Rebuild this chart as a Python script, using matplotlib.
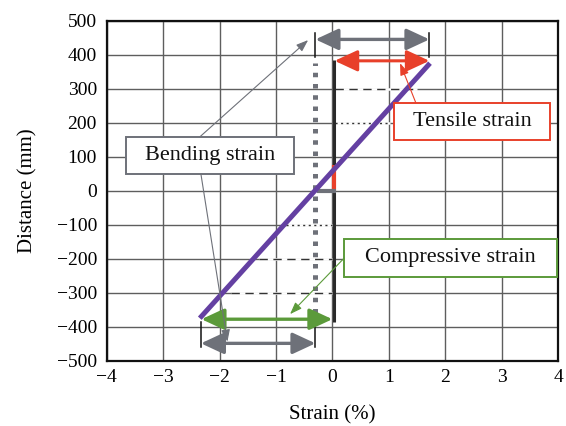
import matplotlib
matplotlib.use("Agg")
import matplotlib.pyplot as plt
from matplotlib.patches import Rectangle, FancyArrowPatch

plt.rcParams['font.family'] = ['Liberation Serif', 'DejaVu Serif']
plt.rcParams['axes.unicode_minus'] = True

# ---- data ----
x_ticks = [-4, -3, -2, -1, 0, 1, 2, 3, 4]
y_ticks = [-500, -400, -300, -200, -100, 0, 100, 200, 300, 400, 500]

# total strain distribution (purple)
total_x = [-2.35, 1.73]
total_y = [-375, 375]

# axial (dotted gray) strain
axial_x = [-0.3, -0.3]
axial_y = [-360, 375]

# zero-strain reference (black) and red offset
ref_x_upper = [0.035, 0.035]
ref_y_upper = [384, 76]
ref_x_lower = [0.035, 0.035]
ref_y_lower = [0, -385]
red_seg_x = [0.035, 0.035]
red_seg_y = [76, 0]
zero_tick_x = [-0.28, 0.07]
zero_tick_y = [0, 0]

# projection lines
dash_levels = [300, -200, -300]
dash_ranges = [(0.05, 1.5), (-1.3, 0.0), (-1.8, 0.0)]
dot_levels = [200, -100]
dot_ranges = [(0.05, 1.02), (-0.82, 0.0)]

# double arrows: (x0, x1, y)
bend_top = (-0.3, 1.72, 445)
tens_arrow = (0.04, 1.72, 382)
comp_arrow = (-2.32, 0.0, -378)
bend_bot = (-2.33, -0.3, -449)
top_ticks_x = [-0.3, 1.72]
top_ticks_y = (394, 463)
bot_ticks_x = [-2.33, -0.3]
bot_ticks_y = (-385, -459)

# callout boxes: (x0, x1, y0, y1)
bend_box = (-3.66, -0.68, 49, 159)
tens_box = (1.09, 3.86, 149, 258)
comp_box = (0.21, 3.98, -253, -142)

GRAY = '#6e7179'
RED = '#e8402a'
GREEN = '#5b9a3a'
PURPLE = '#6440a2'

fig = plt.figure(figsize=(5.66, 4.26), dpi=100)
ax = fig.add_axes([0.1885, 0.1533, 0.7975, 0.7981])
ax.set_xlim(-4, 4)
ax.set_ylim(-500, 500)
ax.set_xticks(x_ticks)
ax.set_yticks(y_ticks)
ax.tick_params(length=0, labelsize=14, pad=7)
ax.tick_params(axis='x', pad=6)
ax.grid(True, color='#5e5e5e', linewidth=1.0)
ax.set_axisbelow(True)
for s in ax.spines.values():
    s.set_linewidth(1.6)
    s.set_color('#111111')
ax.set_xlabel('Strain (%)', fontsize=15, labelpad=14)
ax.set_ylabel('Distance (mm)', fontsize=15, labelpad=14)

# projection lines (mask grid beneath, then draw dashed/dotted)
for lev, (a, b) in zip(dash_levels + dot_levels, dash_ranges + dot_ranges):
    ax.plot([a, b], [lev, lev], color='white', lw=1.8, zorder=1.5,
            solid_capstyle='butt')
for lev, (a, b) in zip(dash_levels, dash_ranges):
    ax.plot([a, b], [lev, lev], color='#333333', lw=1.0, dashes=(6, 4), zorder=2)
for lev, (a, b) in zip(dot_levels, dot_ranges):
    ax.plot([a, b], [lev, lev], color='#333333', lw=1.0, dashes=(1.5, 2.5), zorder=2)

# reference and axial lines
ax.plot(ref_x_upper, ref_y_upper, color='#2a2a2a', lw=2.2, zorder=3, solid_capstyle='butt')
ax.plot(ref_x_lower, ref_y_lower, color='#2a2a2a', lw=2.2, zorder=3, solid_capstyle='butt')
ax.plot(red_seg_x, red_seg_y, color=RED, lw=3.0, zorder=3, solid_capstyle='butt')
ax.plot(zero_tick_x, zero_tick_y, color=GRAY, lw=3.0, zorder=3, solid_capstyle='butt')
ax.plot(axial_x, axial_y, color=GRAY, lw=3.6, dashes=(0.9, 1.35),
        dash_capstyle='butt', zorder=3)

# end ticks
for xv in top_ticks_x:
    ax.plot([xv, xv], top_ticks_y, color='#111111', lw=1.1, zorder=3)
for xv in bot_ticks_x:
    ax.plot([xv, xv], bot_ticks_y, color='#111111', lw=1.1, zorder=3)

def darrow(spec, color, lw):
    x0, x1, y = spec
    p = FancyArrowPatch((x0, y), (x1, y),
                        arrowstyle='<|-|>,head_length=1.4,head_width=0.65',
                        mutation_scale=10, color=color, lw=lw,
                        shrinkA=0, shrinkB=0, zorder=4)
    ax.add_patch(p)

darrow(bend_top, GRAY, 2.4)
darrow(tens_arrow, RED, 2.2)
darrow(comp_arrow, GREEN, 2.4)
darrow(bend_bot, GRAY, 2.4)

# total strain line
ax.plot(total_x, total_y, color=PURPLE, lw=3.6, zorder=5, solid_capstyle='butt')

# callout boxes
def callout(box, color, text):
    x0, x1, y0, y1 = box
    r = Rectangle((x0, y0), x1 - x0, y1 - y0, facecolor='white',
                  edgecolor=color, lw=1.4, zorder=6)
    ax.add_patch(r)
    ax.text((x0 + x1) / 2, (y0 + y1) / 2, text, fontsize=16,
            ha='center', va='center', color='#111111', zorder=7)

callout(bend_box, GRAY, 'Bending strain')
callout(tens_box, RED, 'Tensile strain')
callout(comp_box, GREEN, 'Compressive strain')

def pointer(start, end, color):
    ax.annotate('', xy=end, xytext=start,
                arrowprops=dict(arrowstyle='-|>,head_length=0.6,head_width=0.22',
                                color=color, lw=0.8, shrinkA=0, shrinkB=0,
                                mutation_scale=12),
                zorder=6)

pointer((-2.345, 159), (-0.43, 443), GRAY)
pointer((-2.33, 49), (-1.86, -444), GRAY)
pointer((1.48, 258), (1.20, 375), RED)
pointer((0.21, -198), (-0.75, -363), GREEN)

fig.savefig('out.png', dpi=100)
